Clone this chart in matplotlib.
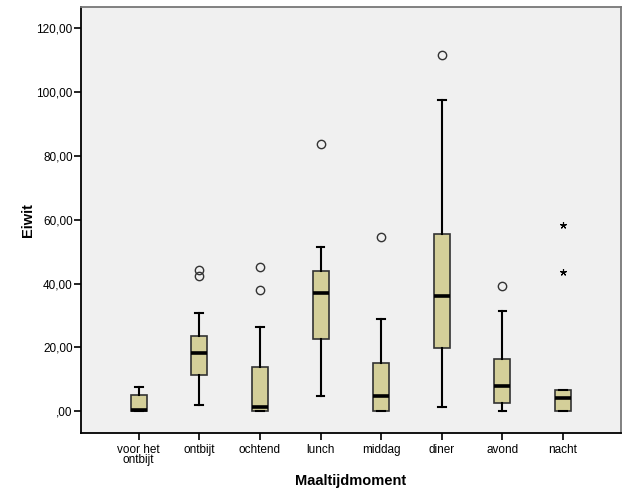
import matplotlib.pyplot as plt
from matplotlib.ticker import FuncFormatter

plt.rcParams['font.family'] = ['Liberation Sans', 'DejaVu Sans']

# Boxplot statistics per maaltijdmoment
categories = ['voor het\nontbijt', 'ontbijt', 'ochtend', 'lunch', 'middag', 'diner', 'avond', 'nacht']
whislo = [0.0, 2.1, 0.0, 4.8, 0.0, 1.25, 0.0, 0.0]
q1 = [0.0, 11.3, 0.0, 22.8, 0.0, 19.7, 2.6, 0.0]
med = [0.3, 18.4, 1.35, 37.0, 4.8, 36.2, 8.0, 4.2]
q3 = [5.0, 23.5, 13.8, 43.9, 15.1, 55.5, 16.3, 6.7]
whishi = [7.5, 30.7, 26.4, 51.5, 28.8, 97.7, 31.5, 6.7]
outliers = [[], [44.2, 42.5], [45.2, 38.0], [83.9], [54.7], [111.8], [39.3], []]
extremes = [[], [], [], [], [], [], [], [58.4, 43.6]]

stats = []
for i in range(len(categories)):
    stats.append({'whislo': whislo[i], 'q1': q1[i], 'med': med[i], 'q3': q3[i],
                  'whishi': whishi[i], 'fliers': []})

fig = plt.figure(figsize=(6.29, 5.04), dpi=100)
ax = fig.add_axes([0.1288, 0.1415, 0.858, 0.8445])
ax.set_facecolor('#f0f0f0')

positions = list(range(1, len(categories) + 1))
ax.bxp(stats, positions=positions, widths=0.265, patch_artist=True, showfliers=False,
       capwidths=0.13,
       boxprops=dict(facecolor='#d4cf99', edgecolor='#333333', linewidth=1.2),
       medianprops=dict(color='black', linewidth=2.6, solid_capstyle='butt'),
       whiskerprops=dict(color='black', linewidth=1.5),
       capprops=dict(color='black', linewidth=1.5))

# outliers (circles) and extremes (stars)
for pos, vals in zip(positions, outliers):
    ax.plot([pos] * len(vals), vals, linestyle='none', marker='o', markersize=6,
            markerfacecolor='none', markeredgecolor='#333333', markeredgewidth=1.0)
for pos, vals in zip(positions, extremes):
    ax.plot([pos] * len(vals), vals, linestyle='none', marker=(5, 2, 0), markersize=5,
            color='black', markeredgewidth=0.8)

ax.set_xlim(0.05, 8.95)
ax.set_ylim(-6.7, 126.7)
ax.set_yticks([0, 20, 40, 60, 80, 100, 120])
ax.yaxis.set_major_formatter(FuncFormatter(lambda v, p: ',00' if v == 0 else f'{v:.0f},00'))
ax.set_xticks(positions)
ax.set_xticklabels(categories, linespacing=0.8)
ax.tick_params(axis='both', direction='out', length=5, width=1.2, labelsize=8.5, colors='black')
ax.tick_params(axis='x', pad=3)
ax.tick_params(axis='y', pad=1)

for side in ['left', 'bottom']:
    ax.spines[side].set_color('black')
    ax.spines[side].set_linewidth(1.3)
for side in ['top', 'right']:
    ax.spines[side].set_color('#777777')
    ax.spines[side].set_linewidth(1.3)

ax.set_ylabel('Eiwit', fontsize=10.5, fontweight='bold', labelpad=1)
ax.set_xlabel('Maaltijdmoment', fontsize=10.5, fontweight='bold', labelpad=6)

fig.savefig('out.png', dpi=100)
plt.close()
